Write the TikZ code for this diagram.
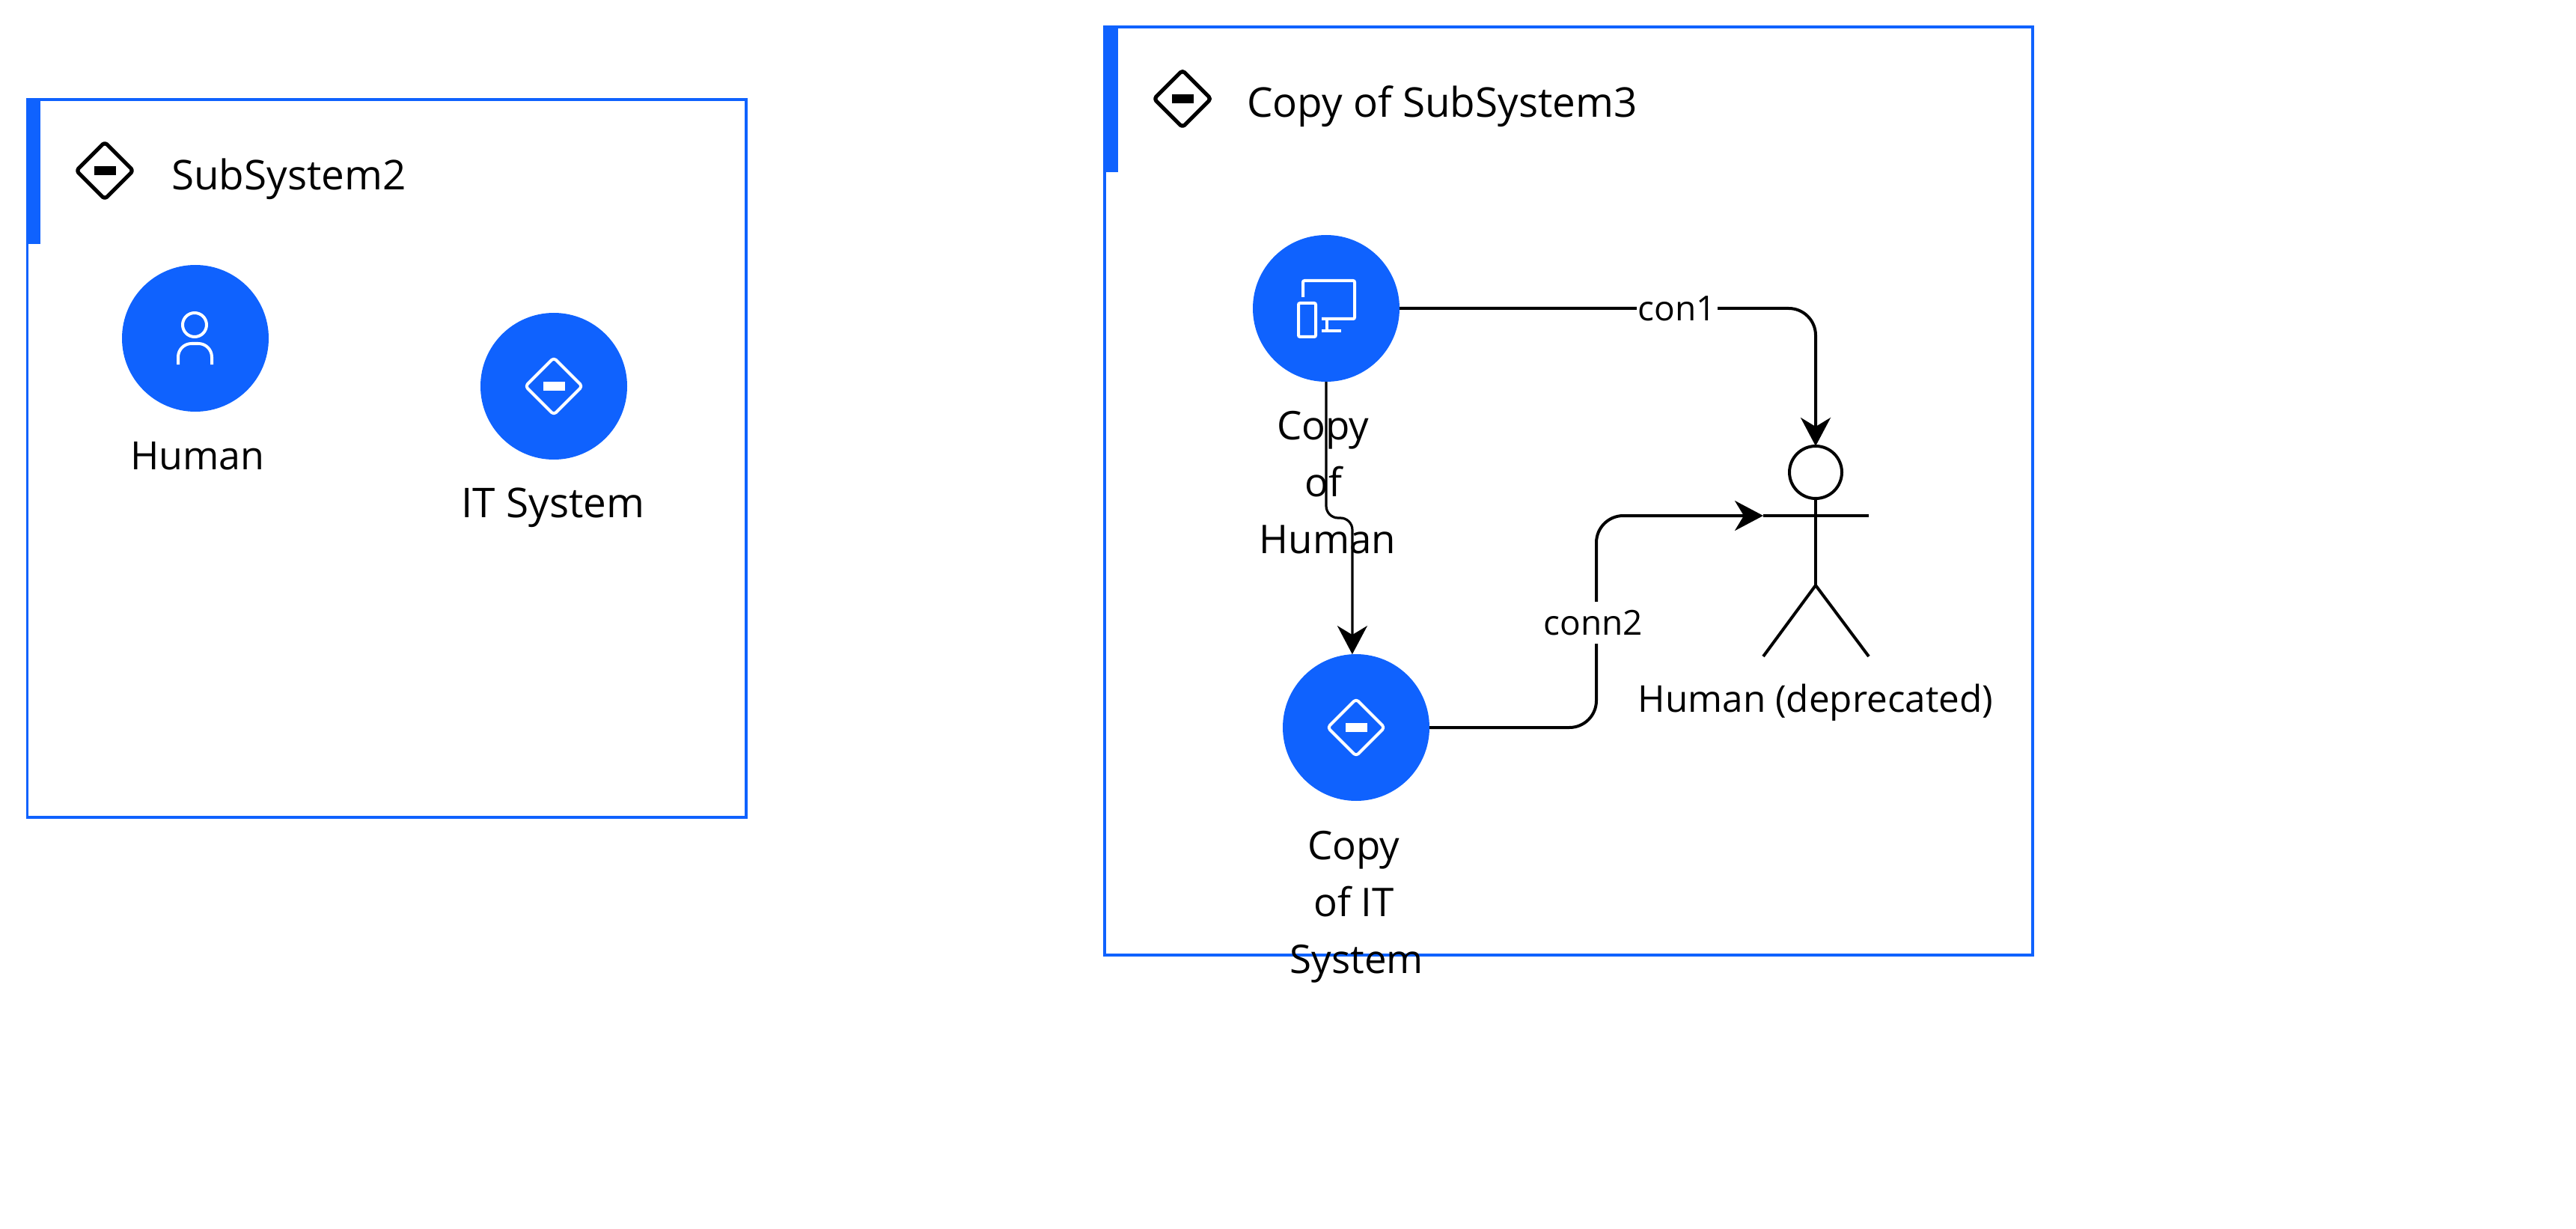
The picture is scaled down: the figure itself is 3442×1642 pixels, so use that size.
\documentclass[tikz,border=0pt]{standalone}
\usepackage{fontspec}
\setmainfont{Open Sans}
\usetikzlibrary{arrows.meta}
\definecolor{sysblue}{HTML}{0F62FE}

\tikzset{
	sysbox/.style={draw=sysblue, line width=1.8pt},
	sysbar/.style={fill=sysblue, draw=none},
	disc/.style={circle, fill=sysblue, draw=none, inner sep=0pt, outer sep=0pt, minimum size=98pt},
	lbl/.style={inner sep=0pt, anchor=base, align=center, font=\fontsize{26}{38}\selectfont},
	titlelbl/.style={lbl, font=\fontsize{27.4}{38}\selectfont},
	conlbl/.style={fill=white, inner sep=1pt, minimum height=28pt, font=\fontsize{23}{26}\selectfont},
	conn/.style={-{Stealth[length=19pt, width=20pt, inset=6pt]}, line width=2pt, rounded corners=18pt},
	iconline/.style={draw=white, line width=2pt},
	figline/.style={line width=2pt}
}

% diamond with a bar, centre and colour
\newcommand{\gemicon}[3]{
	\draw[draw=#2, line width=#3, rounded corners=2pt, line join=round]
		(#1) ++(-38, 0) -- ++(38, -38) -- ++(38, 38) -- ++(-38, 38) -- cycle;
	\fill[#2] (#1) ++(-14.5, -6) rectangle ++(29, 12);
}

\begin{document}
\begin{tikzpicture}[x=0.5pt, y=-0.5pt, >= stealth]
	\useasboundingbox (0, 0) rectangle (3442, 1642);

	% first box
	\draw[sysbox] (36.5, 133) rectangle (997, 1092);
	\fill[sysbar] (35, 131) rectangle (54, 326);
	\gemicon{140, 228}{black}{2.6pt}
	\node[titlelbl] (subtwo) at (386, 254) {SubSystem2};

	\node[disc] (human) at (261, 452) {};
	\node[disc] (itsys) at (740, 516) {};
	\draw[iconline] (260, 434) circle (16);
	\draw[iconline, rounded corners=9pt] (238, 487) -- (238, 459) -- (283, 459) -- (283, 487);
	\gemicon{740, 516}{white}{2pt}
	\node[lbl] (humanlbl) at (264, 627) {Human};
	\node[titlelbl] (itsyslbl) at (739, 691) {IT System};

	% second box
	\draw[sysbox] (1476, 36) rectangle (2716, 1276);
	\fill[sysbar] (1474, 34) rectangle (1494, 230);
	\gemicon{1580, 132}{black}{2.6pt}
	\node[titlelbl] (subthree) at (1927, 157) {Copy of SubSystem3};

	\node[disc] (copyhum) at (1772, 412) {};
	\node[disc] (copyit) at (1812, 972) {};

	\draw[iconline, rounded corners=1pt] (1741, 397) -- (1741, 375) -- (1810, 375) -- (1810, 426) -- (1766, 426);
	\draw[iconline] (1773, 426) -- (1773, 441);
	\draw[iconline] (1766, 442) -- (1792, 442);
	\draw[iconline, rounded corners=1pt] (1735, 405) rectangle (1758, 450);
	\gemicon{1812, 972}{white}{2pt}

	% actor
	\node[circle, draw, line width=2pt, inner sep=0pt, outer sep=0pt, minimum size=35pt] (head) at (2426, 631) {};
	\coordinate (hip) at (2426, 782);
	\coordinate (armleft) at (2356, 689);
	\coordinate (armright) at (2497, 689);
	\coordinate (footleft) at (2356, 877);
	\coordinate (footright) at (2497, 877);
	\draw[figline] (head) -- (hip);
	\draw[figline] (armleft) -- (armright);
	\draw[figline] (footleft) -- (hip) -- (footright);
	\node[lbl, font=\fontsize{24.7}{38}\selectfont] (actorlbl) at (2426, 951) {Human (deprecated)};

	% connectors
	\draw[conn] (copyhum.east) -| (head.north);
	\draw[conn] (copyit.east) -- (2133, 972) -- (2133, 689) -- (armleft);
	\draw[conn, rounded corners=8pt, line width=1.6pt] (copyhum.south) -- (1772, 692) -- (1807, 692) -- (copyit.93);
	\node[conlbl] (conone) at (2241, 412) {con1};
	\node[conlbl] (contwo) at (2129, 832) {conn2};

	\node[lbl, anchor=north, font=\fontsize{26.4}{38}\selectfont] (copyhumlbl) at (1768, 549) {Copy\\of\\\hspace*{6pt}Human};
	\node[lbl, anchor=north, font=\fontsize{26.4}{38}\selectfont] (copyitlbl) at (1809, 1110) {Copy\\of IT\\\hspace*{4pt}System};
\end{tikzpicture}
\end{document}
